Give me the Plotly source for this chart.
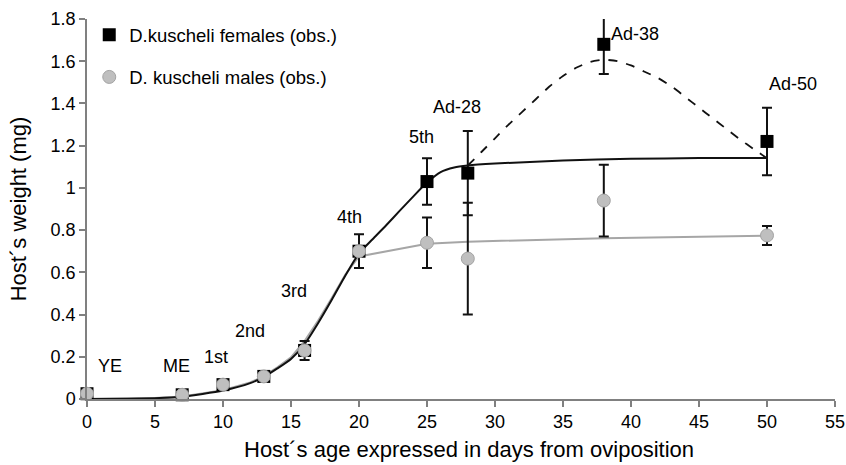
import plotly.graph_objects as go

# Observations
obs_x = [0, 7, 10, 13, 16, 20, 25, 28, 38, 50]
fem_y = [0.025, 0.02, 0.068, 0.107, 0.23, 0.70, 1.03, 1.07, 1.68, 1.22]
fem_err = [0, 0, 0, 0, 0.045, 0.08, 0.11, 0.20, 0.14, 0.16]
male_y = [0.025, 0.02, 0.068, 0.107, 0.23, 0.70, 0.74, 0.665, 0.94, 0.775]
male_err = [0, 0, 0, 0, 0, 0, 0.12, 0.265, 0.17, 0.045]

# Fitted curves
fcur_x = [0, 3, 5, 7, 10, 12, 13, 14, 15, 16, 17, 18, 19, 20, 21, 22, 23, 24, 25, 26, 27, 28, 30, 35, 40, 45, 50]
fcur_y = [0, 0.001, 0.004, 0.011, 0.04, 0.075, 0.105, 0.145, 0.19, 0.26, 0.36, 0.47, 0.585, 0.69, 0.757, 0.823, 0.892, 0.96, 1.025, 1.075, 1.097, 1.106, 1.115, 1.13, 1.138, 1.141, 1.142]
mcur_x = [0, 3, 5, 7, 10, 12, 13, 14, 15, 16, 17, 18, 19, 20, 25, 28, 38, 50]
mcur_y = [0, 0.001, 0.005, 0.012, 0.042, 0.078, 0.108, 0.15, 0.197, 0.275, 0.372, 0.478, 0.59, 0.675, 0.735, 0.745, 0.762, 0.773]
dcur_x = [28, 29, 30, 31, 32, 33, 34, 35, 36, 37, 38, 39, 40, 41, 42, 43, 44, 45, 46, 47, 48, 49, 50]
dcur_y = [1.106, 1.17, 1.235, 1.30, 1.36, 1.42, 1.48, 1.53, 1.57, 1.597, 1.607, 1.60, 1.58, 1.55, 1.52, 1.48, 1.43, 1.38, 1.33, 1.28, 1.23, 1.185, 1.14]

# Stage labels
lab_text = ["YE", "ME", "1st", "2nd", "3rd", "4th", "5th", "Ad-28", "Ad-38", "Ad-50"]
lab_x = [1.7, 6.6, 9.5, 12.0, 15.2, 19.3, 24.6, 27.2, 40.3, 51.9]
lab_y = [0.155, 0.155, 0.2, 0.32, 0.51, 0.86, 1.24, 1.385, 1.73, 1.49]

x_title = "Host´s age expressed in days from oviposition"
y_title = "Host´s weight (mg)"

FONT = "Liberation Sans, Arial, sans-serif"
fig = go.Figure()

fig.add_trace(go.Scatter(x=mcur_x, y=mcur_y, mode="lines", showlegend=False,
                         line=dict(color="#a6a6a6", width=2)))
fig.add_trace(go.Scatter(x=fcur_x, y=fcur_y, mode="lines", showlegend=False,
                         line=dict(color="#111111", width=2, shape="spline", smoothing=0.6)))
fig.add_trace(go.Scatter(x=dcur_x, y=dcur_y, mode="lines", showlegend=False,
                         line=dict(color="#111111", width=1.8, dash="dash", shape="spline", smoothing=0.6)))

fig.add_trace(go.Scatter(x=obs_x, y=fem_y, mode="markers", name="D.kuscheli females (obs.)",
                         legendgroup="f", cliponaxis=False,
                         marker=dict(symbol="square", size=13, color="#000000"),
                         error_y=dict(type="data", array=fem_err, color="#111111", thickness=2, width=5)))
fig.add_trace(go.Scatter(x=obs_x, y=male_y, mode="markers", name="D. kuscheli males (obs.)",
                         legendgroup="m", cliponaxis=False,
                         marker=dict(symbol="circle", size=13, color="#bfbfbf",
                                     line=dict(color="#a3a3a3", width=1)),
                         error_y=dict(type="data", array=male_err, color="#111111", thickness=2, width=5)))

for t, x, y in zip(lab_text, lab_x, lab_y):
    fig.add_annotation(x=x, y=y, text=t, showarrow=False, xref="x", yref="y",
                       font=dict(size=18, color="#000000", family=FONT))

fig.add_annotation(x=0.511, y=-0.134, xref="paper", yref="paper", text=x_title,
                   showarrow=False, xanchor="center", yanchor="middle",
                   font=dict(size=22, color="#000000", family=FONT))

axis_common = dict(showline=True, linecolor="#808080", linewidth=1.5, ticks="outside",
                   ticklen=6, tickwidth=1.5, tickcolor="#808080", showgrid=False, zeroline=False,
                   automargin=False,
                   tickfont=dict(size=18, color="#000000", family=FONT))
fig.update_xaxes(range=[0, 55], dtick=5, tick0=0, **axis_common)
fig.update_yaxes(range=[0, 1.8], dtick=0.2, tick0=0,
                 title=dict(text=y_title,
                            font=dict(size=22, color="#000000", family=FONT), standoff=18),
                 **axis_common)

fig.update_layout(
    width=846, height=465,
    margin=dict(l=87, r=11, t=19, b=66),
    paper_bgcolor="white", plot_bgcolor="white",
    font=dict(family=FONT, color="#000000"),
    legend=dict(x=0.003, y=1.007, xanchor="left", yanchor="top", traceorder="grouped",
                tracegroupgap=15, itemwidth=30, bgcolor="rgba(0,0,0,0)",
                font=dict(size=18.5, color="#000000", family=FONT)),
)

fig.write_html("out.html", config={"displayModeBar": False},
               post_script="document.body.style.margin='0px';")
